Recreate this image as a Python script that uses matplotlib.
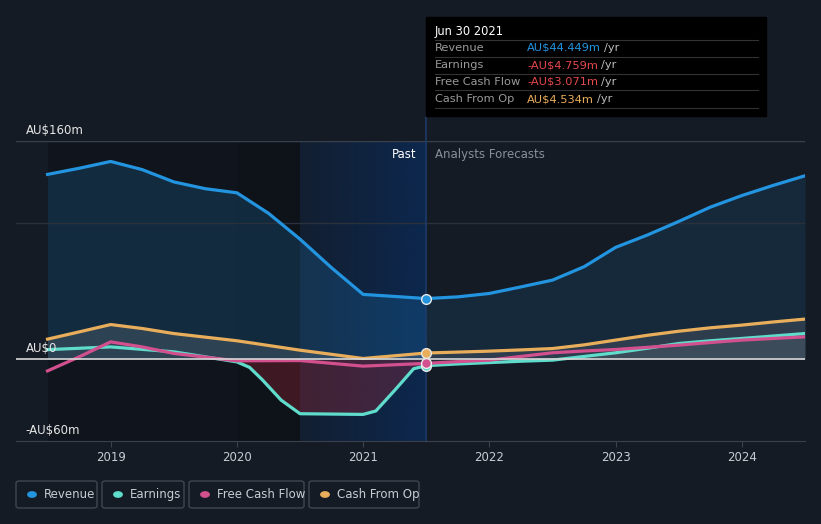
import matplotlib.pyplot as plt
from matplotlib.patches import FancyBboxPatch, Rectangle
from matplotlib.colors import to_rgb
import numpy as np

# decimal years
past_x = [2018.5, 2018.75, 2019.0, 2019.25, 2019.5, 2019.75, 2020.0,
          2020.25, 2020.5, 2020.75, 2021.0, 2021.25, 2021.5]
fc_x = [2021.5, 2021.75, 2022.0, 2022.25, 2022.5, 2022.75, 2023.0,
        2023.25, 2023.5, 2023.75, 2024.0, 2024.25, 2024.5]

revenue_past = [135.5, 140, 145, 139, 130, 125, 122, 107, 88, 67, 47.5, 46, 44.449]
revenue_fc = [44.449, 45.7, 48.2, 53, 58, 67.8, 82, 91, 101, 111.5, 120, 127.5, 134.5]

earn_x = [2018.5, 2019.0, 2019.5, 2020.0, 2020.1, 2020.2, 2020.35, 2020.5,
          2021.0, 2021.1, 2021.25, 2021.4, 2021.5]
earnings_past = [7, 9, 5.4, -2, -6, -15, -30, -40, -40.5, -38, -22.8, -7, -4.759]
earnings_fc = [-4.759, -3.5, -2.5, -1.5, -0.7, 2, 4.7, 8, 11.5, 13.5, 15.2, 17, 18.8]

fcf_x = [2018.5, 2018.75, 2019.0, 2019.25, 2019.5, 2020.0, 2020.5, 2021.0, 2021.5]
fcf_past = [-8.6, 1.7, 12.7, 9, 4.2, -1.2, -1, -5.1, -3.071]
fcf_fc = [-3.071, -1.8, -0.7, 2, 4.7, 6, 7.1, 8.7, 10.3, 12.2, 14, 15.2, 16.4]

cfo_x = [2018.5, 2018.75, 2019.0, 2019.25, 2019.5, 2020.0, 2020.5, 2021.0, 2021.5]
cfo_past = [14.7, 20, 25.4, 22.5, 18.8, 13.5, 6.6, 0.5, 4.534]
cfo_fc = [4.534, 5.2, 5.9, 6.8, 7.8, 10.5, 14, 17.5, 20.5, 23, 25, 27.3, 29.4]

bg = "#151b25"
c_rev = "#2394df"
c_earn = "#5fdccb"
c_fcf = "#d2508e"
c_cfo = "#e9ae5b"

fig = plt.figure(figsize=(8.21, 5.24), dpi=100, facecolor=bg)
ax = fig.add_axes([16 / 821, 83 / 524, 789 / 821, 300 / 524], facecolor=bg)
ax.set_xlim(2018.25, 2024.5)
ax.set_ylim(-60, 160)

# past shading
ax.axvspan(2018.5, 2020.5, color="#0b0f15", alpha=0.45, lw=0)
ax.axvspan(2020.0, 2020.5, color="#0b0f15", alpha=0.3, lw=0)
grad = np.zeros((2, 100, 4))
grad[..., :3] = to_rgb("#0b2a55")
grad[..., 3] = np.linspace(0.25, 0.85, 100)
ax.imshow(grad, extent=(2020.5, 2021.5, -60, 160), aspect="auto", zorder=0.5,
          interpolation="bilinear")
ax.set_xlim(2018.25, 2024.5)
ax.set_ylim(-60, 160)

ax.axhline(160, color="#3a414c", lw=1)
ax.axhline(100, color="#2a313b", lw=1)

# fills
ax.fill_between(past_x, revenue_past, 0, color=c_rev, alpha=0.18, lw=0)
ax.fill_between(fc_x, revenue_fc, 0, color=c_rev, alpha=0.12, lw=0)
ax.fill_between(cfo_x, cfo_past, 0, color="#c8c8c8", alpha=0.15, lw=0)
ax.fill_between(fc_x, cfo_fc, 0, color="#c8c8c8", alpha=0.13, lw=0)
ax.fill_between(earn_x, earnings_past, 0, where=np.array(earnings_past) < 0,
                color="#b02a3a", alpha=0.3, lw=0, interpolate=True)
ax.fill_between(fc_x, earnings_fc, 0, color="#c8c8c8", alpha=0.1, lw=0)

lw = 2.3
ax.plot(past_x, revenue_past, color=c_rev, lw=lw)
ax.plot(fc_x, revenue_fc, color=c_rev, lw=lw)
ax.plot(cfo_x, cfo_past, color=c_cfo, lw=lw)
ax.plot(fc_x, cfo_fc, color=c_cfo, lw=lw)
ax.plot(earn_x, earnings_past, color=c_earn, lw=lw)
ax.plot(fc_x, earnings_fc, color=c_earn, lw=lw)
ax.plot(fcf_x, fcf_past, color=c_fcf, lw=lw)
ax.plot(fc_x, fcf_fc, color=c_fcf, lw=lw)

ax.axhline(0, color="#d8d8d8", lw=1.2)
ax.axvline(2021.5, color="#1c3a66", lw=1.2, ymax=1.08, clip_on=False)

for v, c in [(revenue_past[-1], c_rev), (cfo_past[-1], c_cfo),
             (earnings_past[-1], c_earn), (fcf_past[-1], c_fcf)]:
    ax.plot([2021.5], [v], "o", ms=7, color=c, mec="#e8e8e8", mew=1, zorder=5)

for s in ["top", "right", "left"]:
    ax.spines[s].set_visible(False)
ax.spines["bottom"].set_color("#3a414c")
ax.set_yticks([])
ax.set_xticks([2019, 2020, 2021, 2022, 2023, 2024])
ax.set_xticklabels(["2019", "2020", "2021", "2022", "2023", "2024"])
ax.tick_params(axis="x", colors="#3a414c", labelcolor="#c8ccd2", labelsize=8.5, length=4)

ax.text(0.012, 163, "AU$160m", transform=ax.get_yaxis_transform(), color="#e6e6e6", fontsize=8.5, va="bottom")
ax.text(0.012, 3, "AU$0", transform=ax.get_yaxis_transform(), color="#e6e6e6", fontsize=8.5, va="bottom")
ax.text(0.012, -57, "-AU$60m", transform=ax.get_yaxis_transform(), color="#e6e6e6", fontsize=8.5, va="bottom")
ax.text(2021.42, 150, "Past", color="#ffffff", fontsize=8.5, ha="right", va="center")
ax.text(2021.57, 150, "Analysts Forecasts", color="#8a8f97", fontsize=8.5, ha="left", va="center")

# tooltip
W, H = 821, 524
fig.patches.append(Rectangle((426 / W, 1 - 116 / H), 340 / W, 99 / H, transform=fig.transFigure,
                             color="#000000", zorder=10))
fig.text(435 / W, 1 - 31 / H, "Jun 30 2021", color="#ffffff", fontsize=8.3, va="center", zorder=11)
rows = [("Revenue", "AU$44.449m", c_rev), ("Earnings", "-AU$4.759m", "#e5484d"),
        ("Free Cash Flow", "-AU$3.071m", "#e5484d"), ("Cash From Op", "AU$4.534m", c_cfo)]
for i, (lab, val, c) in enumerate(rows):
    y = 48 + i * 17
    fig.lines.append(plt.Line2D([435 / W, 758 / W], [1 - (y - 8.5) / H] * 2, transform=fig.transFigure,
                                color="#333333", lw=0.8, zorder=11))
    fig.text(435 / W, 1 - y / H, lab, color="#9a9a9a", fontsize=8.2, va="center", zorder=11)
    t = fig.text(527 / W, 1 - y / H, val, color=c, fontsize=8.2, va="center", zorder=11)
    fig.canvas.draw()
    bb = t.get_window_extent()
    fig.text(bb.x1 / W + 3 / W, 1 - y / H, "/yr", color="#bbbbbb", fontsize=8.2, va="center", zorder=11)
fig.lines.append(plt.Line2D([435 / W, 758 / W], [1 - (48 + 3 * 17 + 8.5) / H] * 2, transform=fig.transFigure,
                            color="#333333", lw=0.8, zorder=11))

# legend
legend = [("Revenue", c_rev, 16, 97), ("Earnings", c_earn, 102, 184),
          ("Free Cash Flow", c_fcf, 189, 304), ("Cash From Op", c_cfo, 309, 419)]
for lab, c, x0, x1 in legend:
    fig.patches.append(FancyBboxPatch((x0 / W, 1 - 508 / H), (x1 - x0) / W, 27 / H,
                                      boxstyle="round,pad=0,rounding_size=0.004",
                                      transform=fig.transFigure, fc=bg, ec="#41464f", lw=1))
    fig.patches.append(plt.Circle(((x0 + 16) / W, 1 - 494.5 / H), 4.2 / W, transform=fig.transFigure,
                                  color=c))
    fig.text((x0 + 28) / W, 1 - 494.5 / H, lab, color="#c8ccd2", fontsize=8.5, va="center")

fig.savefig("out.png", dpi=100, facecolor=bg)
